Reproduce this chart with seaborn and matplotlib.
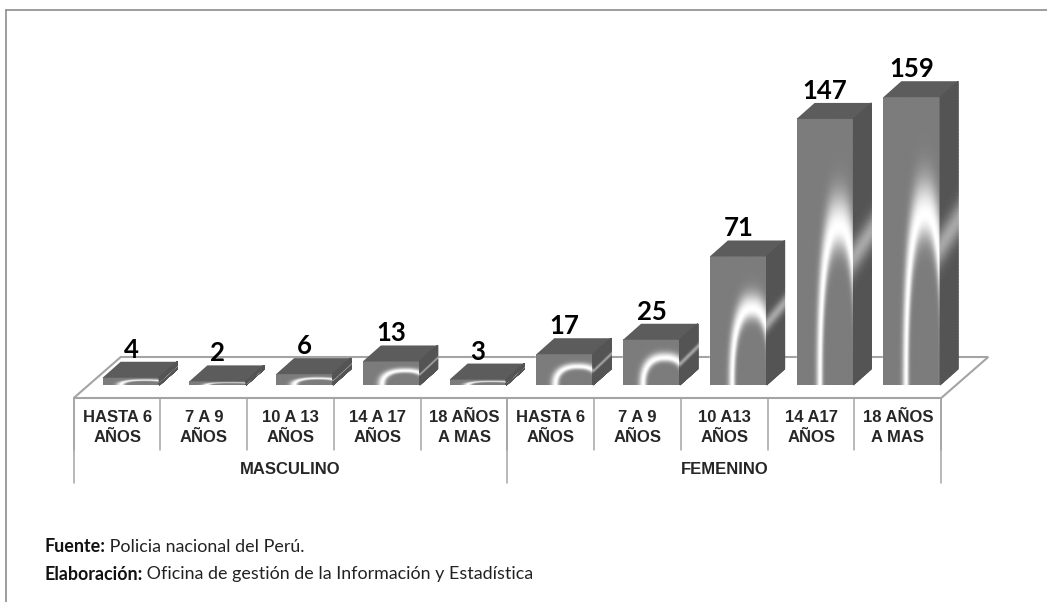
import numpy as np
import pandas as pd
import matplotlib
matplotlib.use("Agg")
import matplotlib.pyplot as plt
from matplotlib.lines import Line2D
from matplotlib.patches import Polygon
import seaborn as sns

# ---- data ----
age_labels = ["HASTA 6\nAÑOS", "7 A 9\nAÑOS", "10 A 13\nAÑOS", "14 A 17\nAÑOS", "18 AÑOS\nA MAS",
              "HASTA 6\nAÑOS", "7 A 9\nAÑOS", "10 A13\nAÑOS", "14 A17\nAÑOS", "18 AÑOS\nA MAS"]
groups = ["MASCULINO", "FEMENINO"]
group_sizes = [5, 5]
values = [4, 2, 6, 13, 3, 17, 25, 71, 147, 159]
source_bold = ["Fuente:", "Elaboración:"]
source_text = [" Policia nacional del Perú.", " Oficina de gestión de la Información y Estadística"]

# ---- geometry (pixel scales of the figure) ----
W, H = 1047, 602
PX_X, PX_Y = 86.75, 1.81
X0_PX, Y0_PX = 131.0, 385.0
CELL_SHIFT = 0.16
DEPTH_X, DEPTH_Y = 18 / PX_X, 16 / PX_Y
FLOOR_X, FLOOR_Y = 47 / PX_X, 41 / PX_Y
FLOOR_FRONT = -13 / PX_Y

sns.set_theme(style="white")
plt.rcParams["font.family"] = ["Lato", "DejaVu Sans"]
NARROW = ["Liberation Sans Narrow", "Liberation Sans", "DejaVu Sans"]
AXIS_GREY = "#a4a4a4"

fig = plt.figure(figsize=(W / 100, H / 100), dpi=100)
ax = fig.add_axes([0, 0, 1, 1])
df = pd.DataFrame({"pos": np.arange(len(values)), "n": values})
sns.barplot(data=df, x="pos", y="n", native_scale=True, width=0.655, color="#808080",
            saturation=1, ax=ax, zorder=3, errorbar=None)


def front_image(v):
    yy, xx = np.mgrid[0:1:240j, 0:1:80j]
    a = 0.33 + 0.10 * np.exp(-v / 40)
    p = 2.4
    r = (np.abs((xx - 0.74) / a) ** p + np.abs(yy / 0.59) ** p) ** (1 / p)
    glow = np.where(r < 1, np.exp(-((1 - r) / 0.14) ** 2), np.exp(-((r - 1) / 0.21) ** 2))
    return 124 + (255 - 124) * glow


for bar, v in zip(ax.patches, values):
    x0, w, h = bar.get_x(), bar.get_width(), bar.get_height()
    x1 = x0 + w
    ax.imshow(front_image(v), extent=[x0, x1, 0, h], origin="lower", cmap="gray", vmin=0, vmax=255,
              aspect="auto", interpolation="bilinear", zorder=3.1)
    # top face
    ax.add_patch(Polygon([(x0, h), (x1, h), (x1 + DEPTH_X, h + DEPTH_Y), (x0 + DEPTH_X, h + DEPTH_Y)],
                         closed=True, fc="#5c5c5c", ec="none", zorder=3.2))
    # side face with the diagonal light band
    s, t = np.meshgrid(np.linspace(0, 1, 12), np.linspace(0, 1, 200))
    X = x1 + s * DEPTH_X
    Y = t * h + s * DEPTH_Y
    band = np.exp(-((t - (0.48 + 0.04 * s)) / 0.065) ** 2)
    ax.pcolormesh(X, Y, 84 + (168 - 84) * band, cmap="gray", vmin=0, vmax=255,
                  shading="gouraud", zorder=3.2)
    # value label
    ax.annotate(str(v), xy=(x0 + w / 2, h + DEPTH_Y), xytext=(0, 0), textcoords="offset pixels",
                ha="center", va="bottom", fontsize=18.5, fontweight="bold", color="#000000", zorder=5)

ax.set_xlim(-X0_PX / PX_X, (W - X0_PX) / PX_X)
ax.set_ylim(-(H - Y0_PX) / PX_Y, Y0_PX / PX_Y)
ax.set_axis_off()

# ---- floor ----
n = len(values)
xl, xr = -0.5 - CELL_SHIFT, n - 0.5 - CELL_SHIFT
floor = [(xl, FLOOR_FRONT), (xr, FLOOR_FRONT), (xr + FLOOR_X, FLOOR_FRONT + FLOOR_Y), (xl + FLOOR_X, FLOOR_FRONT + FLOOR_Y)]
ax.add_patch(Polygon(floor, closed=True, fc="white", ec=AXIS_GREY, lw=1.5, zorder=1))

# ---- category table ----
inner_bottom = -65 / PX_Y
outer_bottom = -98 / PX_Y
for i in range(n + 1):
    ax.plot([xl + i, xl + i], [FLOOR_FRONT, inner_bottom], color=AXIS_GREY, lw=1.1, zorder=1)
for i, lab in enumerate(age_labels):
    l1, l2 = lab.split("\n")
    ax.text(xl + i + 0.5, -32 / PX_Y, l1, ha="center", va="center", family=NARROW, fontsize=12,
            fontweight="bold", color="#262626")
    ax.text(xl + i + 0.5, -52 / PX_Y, l2, ha="center", va="center", family=NARROW, fontsize=12,
            fontweight="bold", color="#262626")
start = 0
for g, size in zip(groups, group_sizes):
    ax.plot([xl + start, xl + start], [FLOOR_FRONT, outer_bottom], color=AXIS_GREY, lw=1.1, zorder=1)
    ax.text(xl + start + size / 2, -85 / PX_Y, g, ha="center", va="center", family=NARROW, fontsize=12,
            fontweight="bold", color="#262626")
    start += size
ax.plot([xr, xr], [FLOOR_FRONT, outer_bottom], color=AXIS_GREY, lw=1.1, zorder=1)

# ---- footnotes ----
for yf, b, t in zip([1 - 547 / H, 1 - 574 / H], source_bold, source_text):
    tb = fig.text(44 / W, yf, b, ha="left", va="center", fontsize=12.9, fontweight="bold", color="#111111")
    ax.annotate(t, xy=(1, 0), xycoords=tb, va="bottom", ha="left", fontsize=12.9, color="#222222")

# ---- frame ----
fig.add_artist(Line2D([6 / W, 6 / W], [0, 1 - 10 / H], color="#8c8c8c", lw=1.2))
fig.add_artist(Line2D([6 / W, 1], [1 - 10 / H, 1 - 10 / H], color="#8c8c8c", lw=1.2))

fig.savefig("out.png", dpi=100, facecolor="white")
